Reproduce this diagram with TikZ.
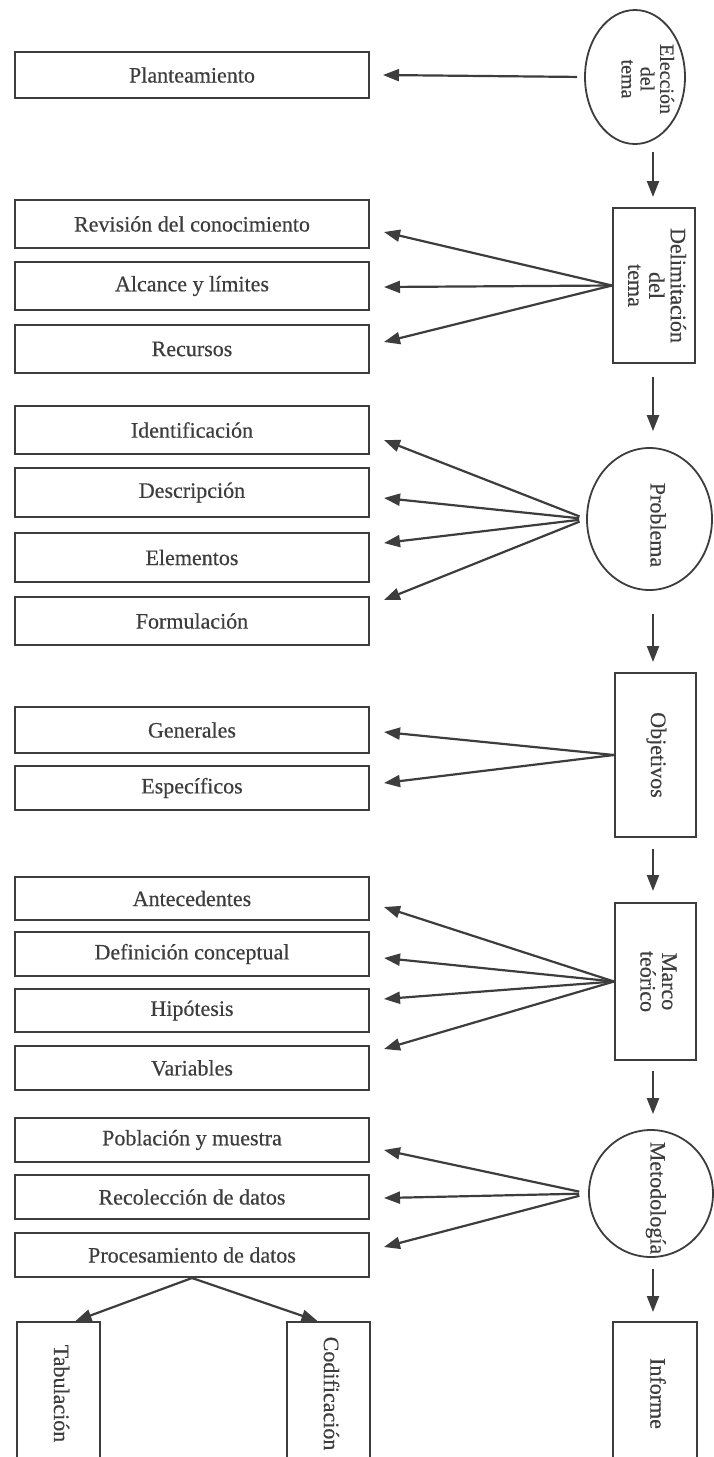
\documentclass[tikz,border=0pt]{standalone}
\usepackage{fontspec}
\setmainfont{Liberation Serif}[FakeBold=0.4]
\usetikzlibrary{arrows.meta,shapes.geometric,calc}
\definecolor{ink}{HTML}{3D3D3D}
% vertical label: lines stacked, read from top to bottom
\newcommand\vlabel[1]{\rotatebox[origin=c]{-90}{\begin{tabular}{@{}c@{}}#1\end{tabular}}}
\begin{document}
\begin{tikzpicture}[x=1pt,y=-1pt,
  every node/.style={font=\fontsize{22}{21}\selectfont, text=ink},
  topic/.style={draw=ink, line width=2pt, minimum width=354pt, minimum height=#1, inner sep=0pt},
  topic/.default=46pt,
  tallbox/.style={draw=ink, line width=2pt, inner sep=0pt},
  oval/.style={ellipse, draw=ink, line width=1.8pt, inner sep=0pt},
  arr/.style={draw=ink, line width=2.2pt, -{Triangle[length=16pt,width=12pt]}}
]
\path[use as bounding box, fill=white] (0,0) rectangle (714,1457);
\clip (0,0) rectangle (714,1457);

% ---- main column (right) ----
\node[oval, minimum width=100pt, minimum height=134pt] (elec) at (635,77) {};
\node[font=\fontsize{20}{19}\selectfont] (electext) at (645,79) {\vlabel{Elección\\del\\tema}};
\node[tallbox, minimum width=82pt, minimum height=155pt] (delim) at (654,285.5) {\vlabel{Delimitación\\del\\tema}};
\node[oval, minimum width=125pt, minimum height=142pt] (prob) at (649.5,519) {};
\node (probtext) at (655,525) {\vlabel{Problema}};
\node[tallbox, minimum width=81pt, minimum height=164pt] (obj) at (655.5,755) {\vlabel{Objetivos}};
\node[tallbox, minimum width=81pt, minimum height=157pt] (marco) at (655.5,981.5) {\vlabel{Marco\\teórico}};
\node[oval, minimum width=124pt, minimum height=127pt] (met) at (651,1193.5) {};
\node (mettext) at (655,1198) {\vlabel{Metodología}};
\node[tallbox, minimum width=84pt, minimum height=143pt] (inf) at (655,1393.5) {\vlabel{Informe}};

% ---- topics (left) ----
\node[topic] (plan) at (192,75) {Planteamiento};

\node[topic=48pt] (rev) at (192,224) {Revisión del conocimiento};
\node[topic=48pt] (alc) at (192,286) {Alcance y límites};
\node[topic=48pt] (rec) at (192,349) {Recursos};

\node[topic=48pt] (ide) at (192,430) {Identificación};
\node[topic=49pt] (des) at (192,492.5) {Descripción};
\node[topic=49pt] (ele) at (192,557.5) {Elementos};
\node[topic=48pt] (for) at (192,621) {Formulación};

\node[topic] (gen) at (192,730) {Generales};
\node[topic=44pt] (esp) at (192,788) {Específicos};

\node[topic=43pt] (ant) at (192,898.5) {Antecedentes};
\node[topic=44pt] (def) at (192,954) {Definición conceptual};
\node[topic=43pt] (hip) at (192,1010.5) {Hipótesis};
\node[topic=44pt] (var) at (192,1068) {Variables};

\node[topic=44pt] (pob) at (192,1140) {Población y muestra};
\node[topic=44pt] (recol) at (192,1197) {Recolección de datos};
\node[topic=44pt] (proc) at (192,1255) {Procesamiento de datos};

\node[tallbox, minimum width=83pt, minimum height=143pt] (tab) at (58.5,1393.5) {\vlabel{Tabulación}};
\node[tallbox, minimum width=83pt, minimum height=143pt] (cod) at (328.5,1393.5) {\vlabel{Codificación}};

% ---- flow down the main column ----
\coordinate (spine) at (653,0);
\draw[arr, shorten <=7pt, shorten >=10pt] (spine |- elec.south) -- (spine |- delim.north);
\draw[arr, shorten <=13pt, shorten >=16pt] (spine |- delim.south) -- (spine |- prob.north);
\draw[arr, shorten <=23pt, shorten >=10pt] (spine |- prob.south) -- (spine |- obj.north);
\draw[arr, shorten <=11pt, shorten >=11pt] (spine |- obj.south) -- (spine |- marco.north);
\draw[arr, shorten <=10pt, shorten >=15pt] (spine |- marco.south) -- (spine |- met.north);
\draw[arr, shorten <=11pt, shorten >=9pt] (spine |- met.south) -- (spine |- inf.north);

% ---- fans to the topics ----
\draw[arr, shorten <=7pt] (elec.west) -- ($(plan.east)+(13,0)$);

\draw[arr] (delim.west) -- ($(rev.east)+(14,8)$);
\draw[arr] (delim.west) -- ($(alc.east)+(14,1)$);
\draw[arr] (delim.west) -- ($(rec.east)+(14,-7)$);

\draw[arr, shorten <=7pt] (prob.west) -- ($(ide.east)+(14,10)$);
\draw[arr, shorten <=7pt] (prob.west) -- ($(des.east)+(14,5.5)$);
\draw[arr, shorten <=7pt] (prob.west) -- ($(ele.east)+(14,-14.5)$);
\draw[arr, shorten <=7pt] (prob.west) -- ($(for.east)+(14,-21)$);

\draw[arr] (obj.west) -- ($(gen.east)+(14,2)$);
\draw[arr] (obj.west) -- ($(esp.east)+(14,-5)$);

\draw[arr] (marco.west) -- ($(ant.east)+(14,8.5)$);
\draw[arr] (marco.west) -- ($(def.east)+(14,4)$);
\draw[arr] (marco.west) -- ($(hip.east)+(14,-11.5)$);
\draw[arr] (marco.west) -- ($(var.east)+(14,-19)$);

\draw[arr, shorten <=9pt] (met.west) -- ($(pob.east)+(14,10)$);
\draw[arr, shorten <=9pt] (met.west) -- ($(recol.east)+(14,1)$);
\draw[arr, shorten <=9pt] (met.west) -- ($(proc.east)+(14,-8)$);

\draw[arr] (proc.south) -- ($(tab.north)+(17,0)$);
\draw[arr] (proc.south) -- ($(cod.north)+(-11,0)$);
\end{tikzpicture}
\end{document}
